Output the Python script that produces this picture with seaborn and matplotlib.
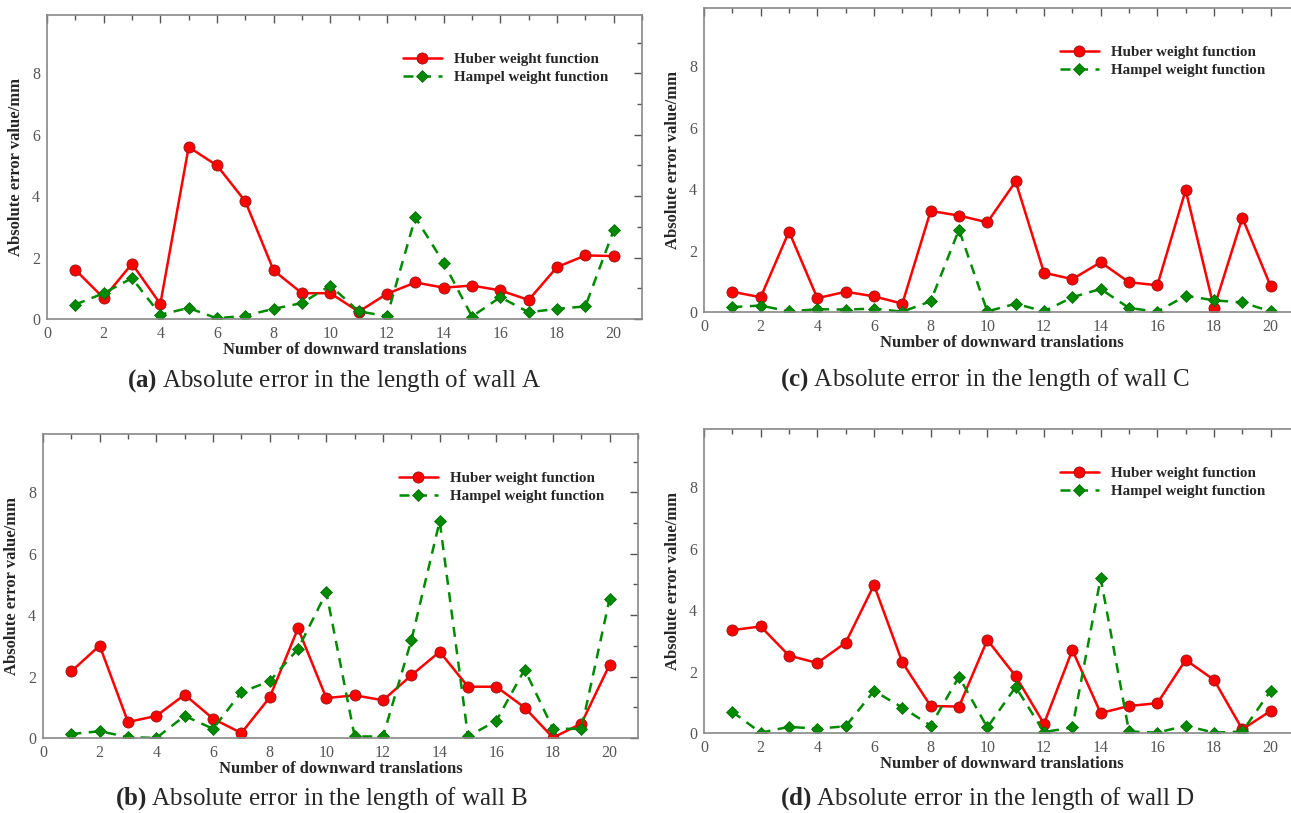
import numpy as np
import pandas as pd
import matplotlib
matplotlib.use("Agg")
import matplotlib.pyplot as plt
from matplotlib.ticker import MultipleLocator
import seaborn as sns

sns.set_theme(style="white")
plt.rcParams["font.family"] = ["Liberation Serif", "DejaVu Serif"]
plt.rcParams["mathtext.fontset"] = "custom"
plt.rcParams["mathtext.rm"] = "Liberation Serif"
plt.rcParams["mathtext.bf"] = "Liberation Serif:bold"

# translation index
x = list(range(1, 21))

# wall A
huber_a = [1.60, 0.68, 1.80, 0.49, 5.60, 5.00, 3.83, 1.58, 0.84, 0.84,
           0.24, 0.82, 1.19, 1.02, 1.09, 0.93, 0.62, 1.69, 2.07, 2.05]
hampel_a = [0.47, 0.84, 1.33, 0.14, 0.36, 0.02, 0.11, 0.33, 0.52, 1.09,
            0.25, 0.09, 3.31, 1.83, 0.08, 0.71, 0.22, 0.33, 0.41, 2.89]
# wall B
huber_b = [2.17, 3.01, 0.52, 0.72, 1.41, 0.63, 0.16, 1.32, 3.57, 1.30,
           1.39, 1.23, 2.04, 2.81, 1.67, 1.67, 0.99, 0.01, 0.47, 2.39]
hampel_b = [0.13, 0.22, 0.03, 0.00, 0.72, 0.30, 1.49, 1.85, 2.90, 4.74,
            0.05, 0.05, 3.18, 7.06, 0.05, 0.56, 2.23, 0.30, 0.30, 4.54]
# wall C
huber_c = [0.66, 0.48, 2.62, 0.45, 0.66, 0.51, 0.27, 3.29, 3.14, 2.92,
           4.25, 1.28, 1.07, 1.62, 0.97, 0.87, 3.97, 0.13, 3.07, 0.84]
hampel_c = [0.16, 0.21, 0.02, 0.09, 0.08, 0.11, 0.01, 0.35, 2.68, 0.02,
            0.27, 0.02, 0.48, 0.75, 0.13, 0.01, 0.53, 0.38, 0.31, 0.02]
# wall D
huber_d = [3.35, 3.47, 2.52, 2.28, 2.94, 4.82, 2.30, 0.88, 0.86, 3.03,
           1.85, 0.30, 2.70, 0.65, 0.88, 0.97, 2.38, 1.73, 0.12, 0.72]
hampel_d = [0.69, 0.01, 0.20, 0.14, 0.22, 1.37, 0.83, 0.24, 1.83, 0.18,
            1.50, 0.03, 0.18, 5.05, 0.05, 0.01, 0.24, 0.01, 0.05, 1.38]

panels = [
    ("a", "A", huber_a, hampel_a),
    ("b", "B", huber_b, hampel_b),
    ("c", "C", huber_c, hampel_c),
    ("d", "D", huber_d, hampel_d),
]

W, H = 1291, 813
fig = plt.figure(figsize=(W / 100, H / 100), dpi=100)

# axes boxes in pixels: left, right, top, bottom
boxes = {
    "a": (47, 642, 15, 319),
    "b": (43, 638, 434, 738),
    "c": (704, 1299, 8, 312),
    "d": (704, 1299, 429, 733),
}
captions = {"a": (334, 381), "b": (322, 799), "c": (985, 380), "d": (987, 799)}

grey = "#555555"
for key, wall, hub, ham in panels:
    l, r, t, b = boxes[key]
    ax = fig.add_axes([l / W, 1 - b / H, (r - l) / W, (b - t) / H])
    df = pd.DataFrame({"n": x, "huber": hub, "hampel": ham})
    sns.lineplot(data=df, x="n", y="huber", ax=ax, color="#ff0000", lw=1.8,
                 marker="o", markersize=8, markeredgecolor="#8b1a1a",
                 markeredgewidth=0.6, label="Huber weight function")
    sns.lineplot(data=df, x="n", y="hampel", ax=ax, color="#008a00", lw=1.8,
                 linestyle=(0, (4, 3)), marker="D", markersize=6,
                 markeredgecolor="#006400", markeredgewidth=0.5,
                 label="Hampel weight function")
    ax.set_xlim(0, 21)
    ax.set_ylim(0, 9.9)
    ax.xaxis.set_major_locator(MultipleLocator(2))
    ax.xaxis.set_minor_locator(MultipleLocator(1))
    ax.yaxis.set_major_locator(MultipleLocator(2))
    ax.yaxis.set_minor_locator(MultipleLocator(1))
    ax.set_yticks([0, 2, 4, 6, 8])
    ax.tick_params(which="both", direction="in", top=True, right=True,
                   color=grey, labelcolor=grey, labelsize=11.5, pad=5)
    ax.tick_params(which="major", length=6, width=1)
    ax.tick_params(which="minor", length=3.5, width=1)
    for s in ax.spines.values():
        s.set_color("#888888")
        s.set_linewidth(1.2)
    ax.set_xlabel("Number of downward translations", fontsize=12,
                  fontweight="bold", labelpad=0)
    ax.set_ylabel("Absolute error value/mm", fontsize=12,
                  fontweight="bold", labelpad=6)
    ax.legend(frameon=False, loc="upper left", bbox_to_anchor=(0.585, 0.9),
              prop={"family": "Liberation Serif", "weight": "bold", "size": 10.8},
              handlelength=2.6, labelspacing=0.3, borderpad=0)
    cx, cy = captions[key]
    fig.text(cx / W, 1 - cy / H, f"$\\mathbf{{({key})}}$ Absolute error in the length of wall {wall}",
             ha="center", va="center", fontsize=18)

fig.savefig("out.png", dpi=100, facecolor="white")
